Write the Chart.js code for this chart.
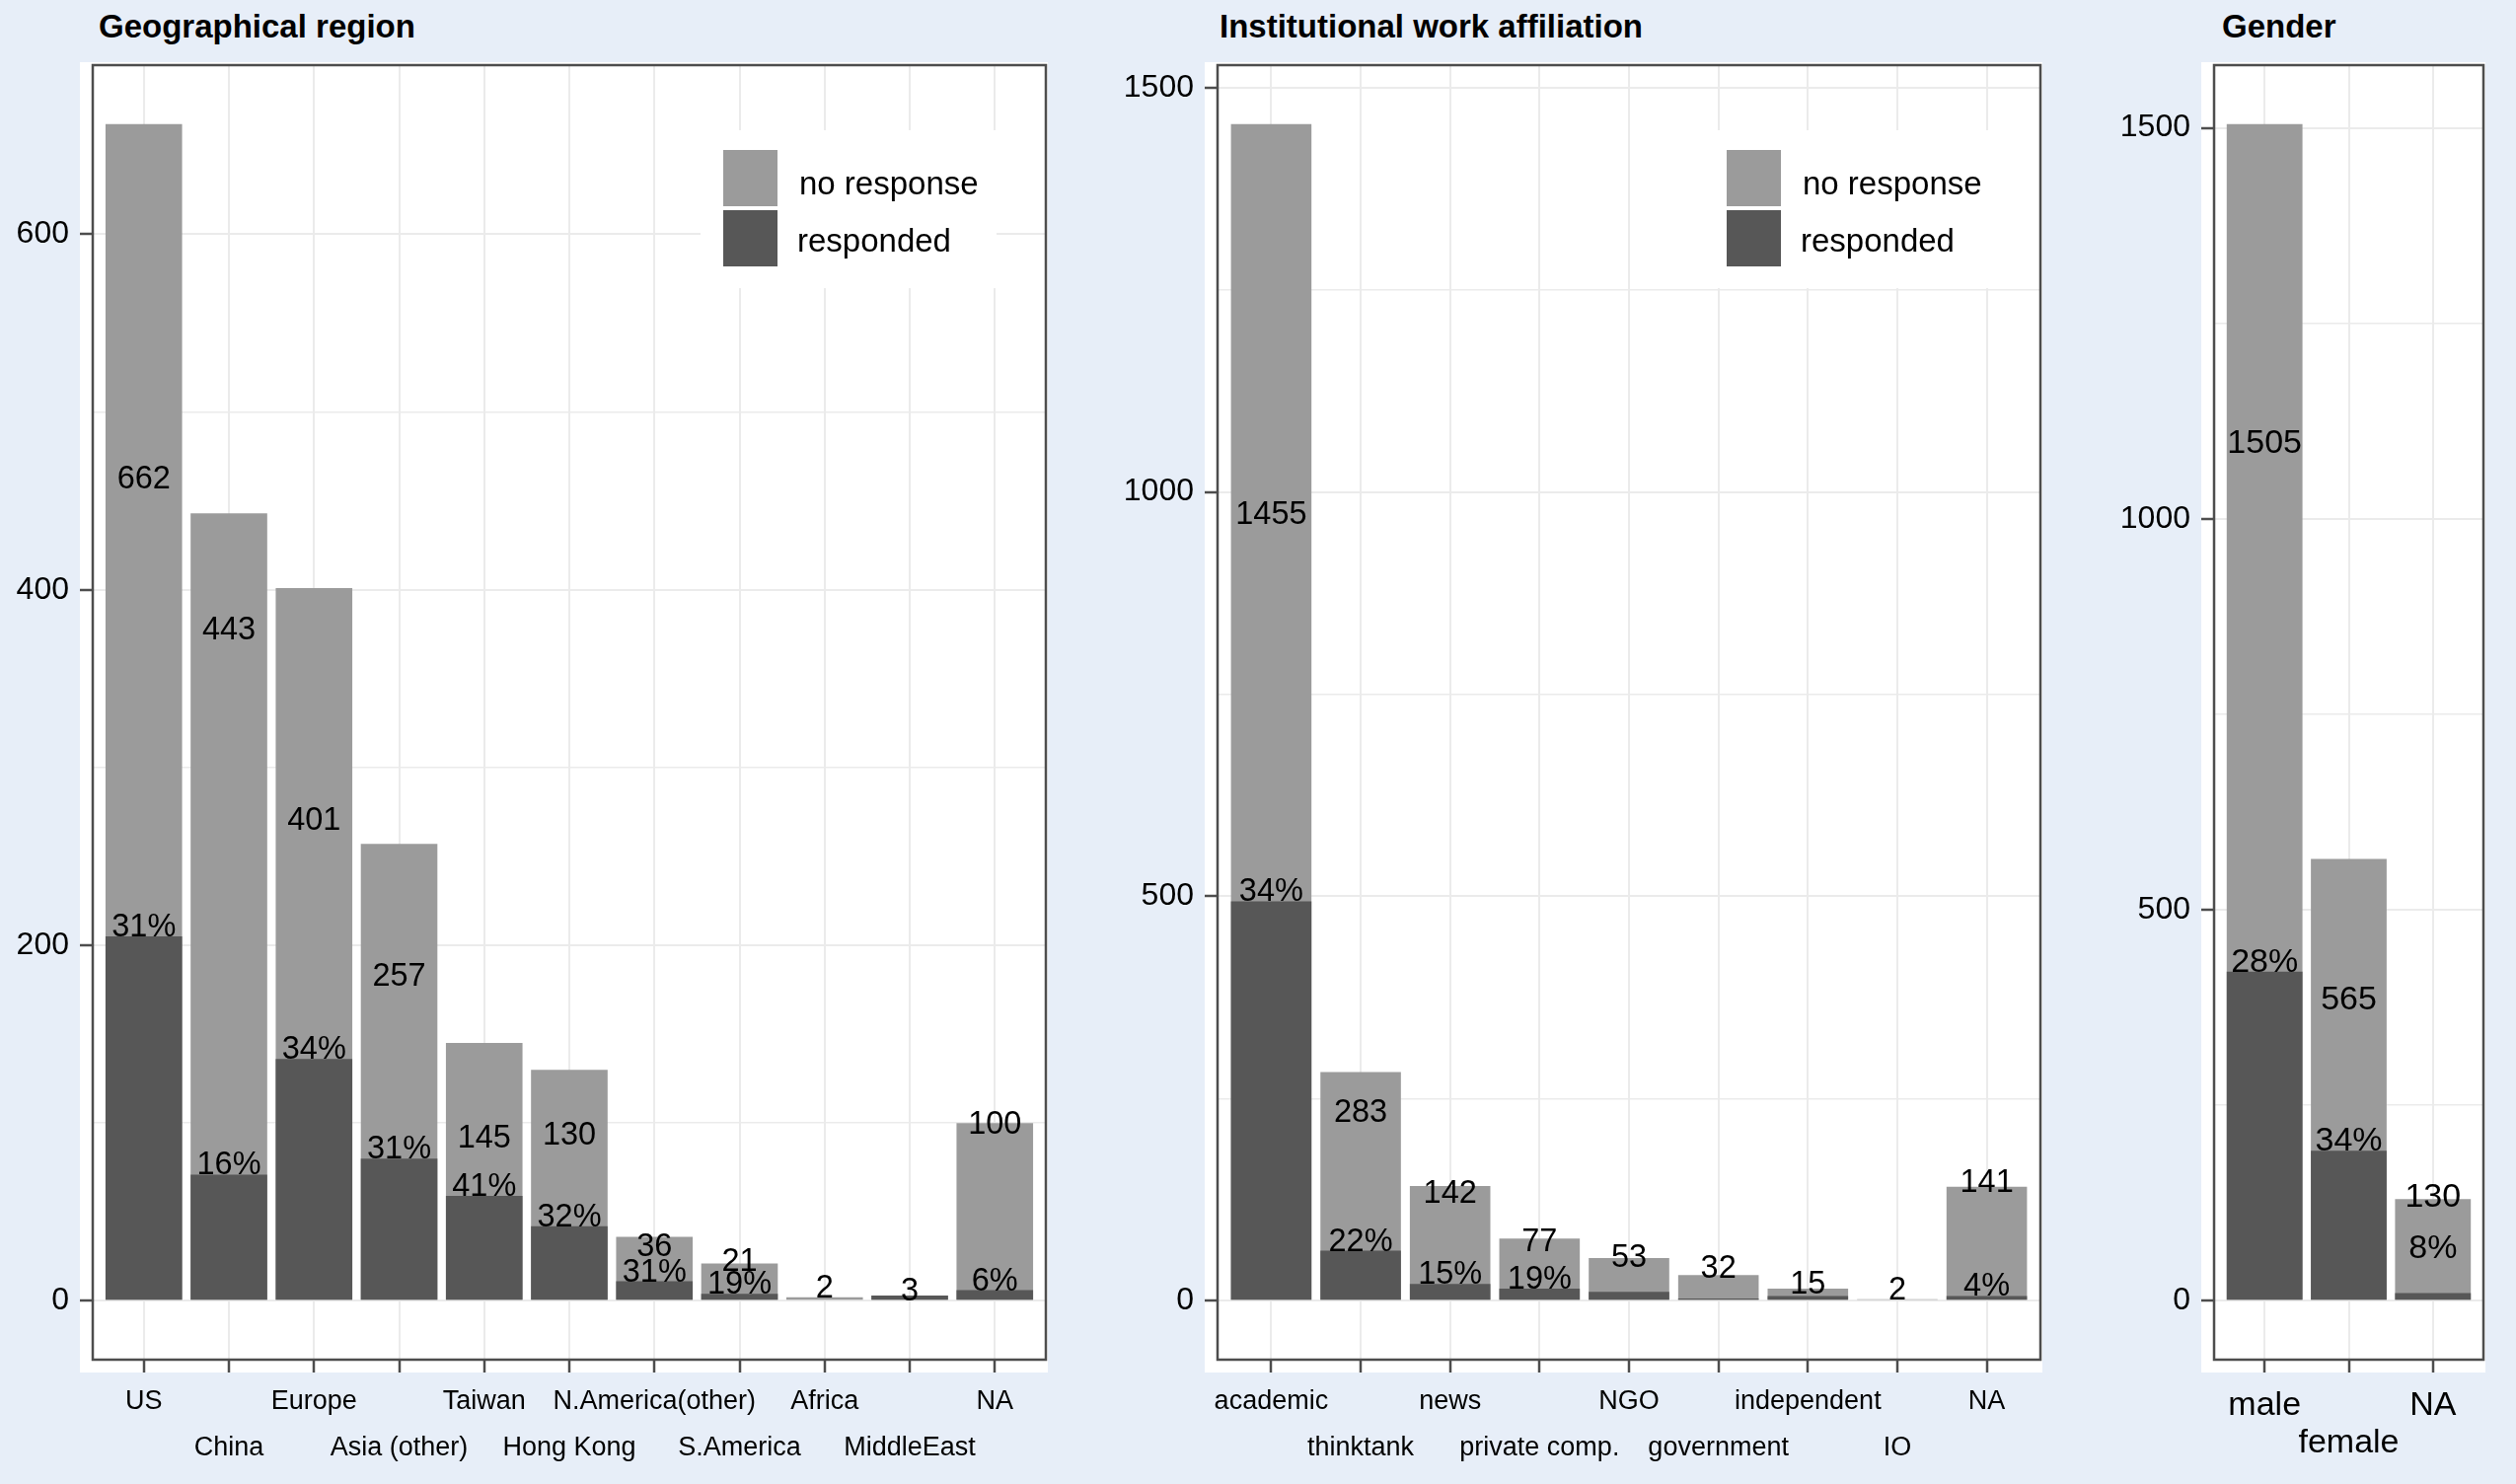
<!DOCTYPE html>
<html>
<head>
  <meta charset="utf-8">
  <title>Respondents by region, affiliation and gender</title>
  <script src="https://cdn.jsdelivr.net/npm/chart.js"></script>
  <style>
    body { margin: 0; width: 2550px; height: 1504px; overflow: hidden; position: relative;
           background: #e7eef8; font-family: "Liberation Sans", Arial, sans-serif; }
    .title { position: absolute; top: 10px; font-weight: bold; font-size: 33px; line-height: 1; color: #000; }
    canvas { position: absolute; top: 0; }
  </style>
</head>
<body>
  <div class="title" style="left:100px">Geographical region</div>
  <div class="title" style="left:1236px">Institutional work affiliation</div>
  <div class="title" style="left:2252px">Gender</div>

  <canvas id="region" width="1075" height="1504" style="left:0px"></canvas>
  <canvas id="affil" width="980" height="1504" style="left:1100px"></canvas>
  <canvas id="gender" width="420" height="1504" style="left:2130px"></canvas>

  <script>
    // total invited / responded per category
    const regionLabels = ['US', 'China', 'Europe', 'Asia (other)', 'Taiwan', 'Hong Kong',
                          'N.America(other)', 'S.America', 'Africa', 'MiddleEast', 'NA'];
    const regionTotal = [662, 443, 401, 257, 145, 130, 36, 21, 2, 3, 100];
    const regionResp  = [205, 71, 136, 80, 59, 42, 11, 4, 0, 3, 6];
    const regionPct   = ['31%', '16%', '34%', '31%', '41%', '32%', '31%', '19%', null, null, '6%'];

    const affilLabels = ['academic', 'thinktank', 'news', 'private comp.', 'NGO',
                         'government', 'independent', 'IO', 'NA'];
    const affilTotal = [1455, 283, 142, 77, 53, 32, 15, 2, 141];
    const affilResp  = [494, 62, 21, 15, 11, 3, 6, 0, 6];
    const affilPct   = ['34%', '22%', '15%', '19%', null, null, null, null, '4%'];

    const genderLabels = ['male', 'female', 'NA'];
    const genderTotal = [1505, 565, 130];
    const genderResp  = [421, 192, 10];
    const genderPct   = ['28%', '34%', '8%'];

    const LIGHT = '#9b9b9b';
    const DARK = '#575757';
    const FRAME = '#4d4d4d';
    const GRID = '#ebebeb';

    Chart.defaults.font.family = '"Liberation Sans", Arial, sans-serif';
    Chart.defaults.color = '#000';

    // white panel, frame, bar labels and the inset legend
    const panelPlugin = {
      id: 'panel',
      beforeDraw(chart) {
        const { ctx, chartArea: a } = chart;
        ctx.save();
        ctx.fillStyle = '#fff';
        ctx.fillRect(a.left - 13, a.top - 3, a.right - a.left + 15, a.bottom - a.top + 16);
        ctx.restore();
      },
      afterDatasetsDraw(chart, args, opts) {
        const { ctx, chartArea: a, scales: { x, y } } = chart;
        ctx.save();
        ctx.fillStyle = '#000';
        ctx.textAlign = 'center';
        ctx.textBaseline = 'alphabetic';
        ctx.font = opts.labelSize + 'px "Liberation Sans", Arial, sans-serif';
        opts.total.forEach((t, i) => {
          const px = x.getPixelForValue(i);
          ctx.fillText(String(t), px, y.getPixelForValue(t - opts.resp[i]));
          if (opts.pct[i]) {
            const lift = opts.pctLift ? opts.pctLift[i] : 0;
            ctx.fillText(opts.pct[i], px, y.getPixelForValue(opts.resp[i] + lift));
          }
        });

        if (opts.legendRight) {
          const lx = a.right - opts.legendRight;
          const ly = a.top + 86;
          ctx.fillStyle = '#fff';
          ctx.fillRect(lx - 23, ly - 20, 300, 160);
          ctx.fillStyle = LIGHT;
          ctx.fillRect(lx, ly, 55, 57);
          ctx.fillStyle = DARK;
          ctx.fillRect(lx, ly + 61, 55, 57);
          ctx.fillStyle = '#000';
          ctx.textAlign = 'left';
          ctx.font = '33px "Liberation Sans", Arial, sans-serif';
          ctx.fillText('no response', lx + 77, ly + 45);
          ctx.fillText('responded', lx + 75, ly + 103);
        }
        ctx.restore();
      },
      afterDraw(chart) {
        const { ctx, chartArea: a } = chart;
        ctx.save();
        ctx.strokeStyle = FRAME;
        ctx.lineWidth = 2.5;
        ctx.strokeRect(a.left, a.top, a.right - a.left, a.bottom - a.top);
        ctx.restore();
      }
    };

    function makeChart(id, c) {
      const n = c.labels.length;
      const maxT = Math.max(...c.total);
      return new Chart(document.getElementById(id), {
        type: 'bar',
        data: {
          datasets: [
            { label: 'responded', data: c.resp.map((v, i) => ({ x: i, y: v })),
              backgroundColor: DARK, order: 0, grouped: false,
              barPercentage: 0.9, categoryPercentage: 1 },
            { label: 'no response', data: c.total.map((v, i) => ({ x: i, y: v })),
              backgroundColor: LIGHT, order: 1, grouped: false,
              barPercentage: 0.9, categoryPercentage: 1 }
          ]
        },
        options: {
          responsive: false,
          animation: false,
          events: [],
          layout: { padding: { top: 66, right: c.padRight, left: 0, bottom: 0 } },
          plugins: {
            legend: { display: false },
            tooltip: { enabled: false },
            panel: { total: c.total, resp: c.resp, pct: c.pct, labelSize: c.labelSize,
                     legendRight: c.legendRight, pctLift: c.pctLift }
          },
          scales: {
            x: {
              type: 'linear',
              offset: false,
              min: -0.6,
              max: n - 0.4,
              afterBuildTicks: ax => { ax.ticks = c.labels.map((_, i) => ({ value: i })); },
              afterFit: ax => { ax.height = 126; },
              border: { display: false },
              grid: { offset: false, color: GRID, lineWidth: 2, tickColor: FRAME, tickLength: 13, tickWidth: 2.5 },
              ticks: {
                autoSkip: false, maxRotation: 0, minRotation: 0,
                padding: c.xPad,
                font: { size: c.xSize, lineHeight: c.xLine + 'px' },
                callback: v => (v % 2 ? ['', c.labels[v]] : c.labels[v])
              }
            },
            y: {
              min: -0.05 * maxT,
              max: 1.05 * maxT,
              afterBuildTicks: ax => {
                const t = [];
                for (let v = 0; v <= ax.max; v += c.minor) t.push({ value: v });
                ax.ticks = t;
              },
              afterFit: ax => { ax.width = c.axisWidth; },
              border: { display: false },
              grid: {
                color: GRID,
                lineWidth: ctx => (ctx.tick && ctx.tick.value % c.major === 0 ? 2 : 1.5),
                tickColor: ctx => (ctx.tick && ctx.tick.value % c.major === 0 ? FRAME : 'rgba(0,0,0,0)'),
                tickLength: 13,
                tickWidth: 2.5
              },
              ticks: {
                padding: 11,
                font: { size: 32 },
                callback: v => (v % c.major === 0 ? String(v) : '')
              }
            }
          }
        },
        plugins: [panelPlugin]
      });
    }

    makeChart('region', {
      labels: regionLabels, total: regionTotal, resp: regionResp, pct: regionPct,
      minor: 100, major: 200, axisWidth: 94, padRight: 15,
      xSize: 27, xLine: 47, xPad: 6, labelSize: 32.5, legendRight: 327
    });
    makeChart('affil', {
      labels: affilLabels, total: affilTotal, resp: affilResp, pct: affilPct,
      minor: 250, major: 500, axisWidth: 134, padRight: 12,
      xSize: 27, xLine: 47, xPad: 6, labelSize: 32.5, legendRight: 318
    });
    makeChart('gender', {
      labels: genderLabels, total: genderTotal, resp: genderResp, pct: genderPct,
      minor: 250, major: 500, axisWidth: 114, padRight: 33,
      xSize: 34, xLine: 38, xPad: 15, labelSize: 34, pctLift: [0, 0, 45]
    });
  </script>
</body>
</html>
